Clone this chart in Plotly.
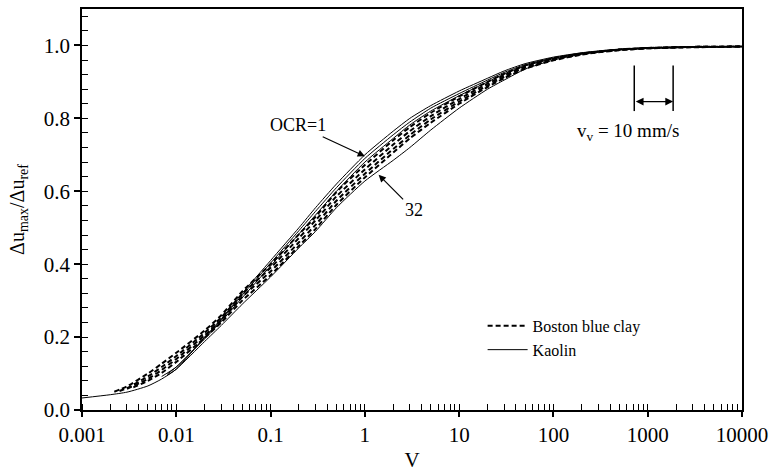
import plotly.graph_objects as go
import numpy as np

# ---- data ----
G = [0.01, 0.02, 0.03, 0.05, 0.1, 0.2, 0.3, 0.5, 1, 2, 3, 5, 10, 20, 30, 50, 100, 200, 300, 500, 1000, 3000, 10000]

# Kaolin (solid lines)
k1_v = [0.001, 0.002, 0.003, 0.005, 0.007] + G
k1_y = [0.033, 0.042, 0.049, 0.066, 0.085,
        0.112, 0.20, 0.25, 0.32, 0.41, 0.50, 0.555, 0.62, 0.70, 0.765, 0.80, 0.835, 0.875, 0.91, 0.93, 0.95, 0.968, 0.98, 0.985, 0.99, 0.994, 0.996, 0.997]
k2_v = [0.007] + G
k2_y = [0.092,
        0.118, 0.198, 0.247, 0.315, 0.403, 0.492, 0.545, 0.61, 0.69, 0.755, 0.79, 0.828, 0.868, 0.905, 0.926, 0.947, 0.966, 0.979, 0.984, 0.989, 0.993, 0.996, 0.997]
k3_v = [0.008] + G
k3_y = [0.098,
        0.118, 0.195, 0.243, 0.308, 0.395, 0.483, 0.535, 0.60, 0.68, 0.745, 0.782, 0.82, 0.862, 0.90, 0.922, 0.944, 0.964, 0.978, 0.983, 0.989, 0.993, 0.996, 0.997]
k4_v = [0.008] + G
k4_y = [0.095,
        0.112, 0.188, 0.232, 0.29, 0.365, 0.445, 0.49, 0.555, 0.628, 0.685, 0.72, 0.768, 0.828, 0.88, 0.905, 0.935, 0.96, 0.976, 0.982, 0.988, 0.992, 0.995, 0.997]

# Boston blue clay (dashed lines)
b1_v = [0.0022, 0.003, 0.005, 0.007] + G
b1_y = [0.05, 0.065, 0.10, 0.127,
        0.157, 0.218, 0.26, 0.325, 0.40, 0.482, 0.53, 0.598, 0.672, 0.74, 0.776, 0.815, 0.86, 0.90, 0.922, 0.945, 0.965, 0.978, 0.983, 0.989, 0.993, 0.996, 0.997]
b2_v = [0.0025, 0.003, 0.005, 0.007] + G
b2_y = [0.052, 0.06, 0.092, 0.118,
        0.148, 0.212, 0.254, 0.318, 0.39, 0.472, 0.52, 0.586, 0.66, 0.728, 0.765, 0.806, 0.853, 0.895, 0.918, 0.942, 0.963, 0.977, 0.983, 0.988, 0.993, 0.996, 0.997]
b3_v = [0.003, 0.005, 0.007] + G
b3_y = [0.058, 0.085, 0.11,
        0.14, 0.205, 0.247, 0.31, 0.38, 0.46, 0.508, 0.574, 0.648, 0.716, 0.754, 0.797, 0.846, 0.89, 0.914, 0.939, 0.961, 0.976, 0.982, 0.988, 0.992, 0.996, 0.997]
b4_v = [0.0035, 0.005, 0.007] + G
b4_y = [0.062, 0.08, 0.102,
        0.132, 0.198, 0.24, 0.30, 0.37, 0.45, 0.497, 0.563, 0.638, 0.706, 0.745, 0.788, 0.84, 0.886, 0.91, 0.936, 0.959, 0.975, 0.981, 0.987, 0.992, 0.995, 0.997]

kaolin = [(k1_v, k1_y), (k2_v, k2_y), (k3_v, k3_y), (k4_v, k4_y)]
boston = [(b1_v, b1_y), (b2_v, b2_y), (b3_v, b3_y), (b4_v, b4_y)]

x_tick_vals = [0.001, 0.01, 0.1, 1, 10, 100, 1000, 10000]
x_tick_text = ["0.001", "0.01", "0.1", "1", "10", "100", "1000", "10000"]
y_tick_vals = [0.0, 0.2, 0.4, 0.6, 0.8, 1.0]
y_tick_text = ["0.0", "0.2", "0.4", "0.6", "0.8", "1.0"]

# annotation anchors
vv_bar_x = [720, 1860]
vv_bar_y = [0.82, 0.945]
vv_arrow_y = 0.846
ocr1_point = (1.0, 0.696)
ocr32_point = (1.40, 0.645)

FONT = "Liberation Serif"

fig = go.Figure()
for i, (v, y) in enumerate(boston):
    fig.add_trace(go.Scatter(x=v, y=y, mode="lines",
                             line=dict(color="black", width=2, dash="5px,3px", shape="spline", smoothing=0.6),
                             name="Boston blue clay", showlegend=(i == 0)))
for i, (v, y) in enumerate(kaolin):
    fig.add_trace(go.Scatter(x=v, y=y, mode="lines",
                             line=dict(color="black", width=1, shape="spline", smoothing=0.6),
                             name="Kaolin", showlegend=(i == 0)))

minor_x = [m * 10.0 ** e for e in range(-3, 4) for m in range(1, 10)] + [10000]

fig.update_xaxes(type="log", range=[-3, 4], tickvals=x_tick_vals, ticktext=x_tick_text,
                 ticks="outside", ticklen=5, tickwidth=1.5, tickcolor="black",
                 minor=dict(tickvals=minor_x, ticks="inside", ticklen=6, tickwidth=1.2, tickcolor="black", showgrid=False),
                 showline=True, linecolor="black", linewidth=1.5, mirror=True, showgrid=False, zeroline=False,
                 tickfont=dict(family=FONT, size=21, color="black"),
                 title=dict(text="V", font=dict(family=FONT, size=21, color="black"), standoff=6))
minor_y = [round(0.04 * i, 2) for i in range(0, 28)]
fig.update_yaxes(range=[0, 1.1], tickvals=y_tick_vals, ticktext=y_tick_text,
                 ticks="outside", ticklen=6, tickwidth=1.5, tickcolor="black",
                 minor=dict(tickvals=minor_y, ticks="inside", ticklen=6, tickwidth=1.2, tickcolor="black", showgrid=False),
                 showline=True, linecolor="black", linewidth=1.5, mirror=True, showgrid=False, zeroline=False,
                 tickfont=dict(family=FONT, size=21, color="black"),
                 title=dict(text="Δu<sub>max</sub>/Δu<sub>ref</sub>", font=dict(family=FONT, size=20, color="black"), standoff=14))

# velocity bar markers
for xv in vv_bar_x:
    fig.add_shape(type="line", xref="x", yref="y", x0=xv, x1=xv, y0=vv_bar_y[0], y1=vv_bar_y[1],
                  line=dict(color="black", width=1.5))
fig.add_annotation(x=np.log10(vv_bar_x[1]), y=vv_arrow_y, ax=np.log10(vv_bar_x[0]), ay=vv_arrow_y,
                   xref="x", yref="y", axref="x", ayref="y", text="", showarrow=True,
                   arrowhead=2, arrowside="end+start", arrowsize=1.2, arrowwidth=1.3, arrowcolor="black")
fig.add_annotation(x=np.log10(np.sqrt(vv_bar_x[0] * vv_bar_x[1])), y=vv_arrow_y, xref="x", yref="y",
                   text="v<sub>v</sub> = 10 mm/s", showarrow=False, yshift=-30, xshift=-26,
                   font=dict(family=FONT, size=19, color="black"))

fig.add_annotation(x=np.log10(ocr1_point[0]), y=ocr1_point[1], xref="x", yref="y", text="OCR=1",
                   showarrow=True, ax=-67, ay=-31, arrowhead=2, arrowsize=1.2, arrowwidth=1.2, arrowcolor="black",
                   font=dict(family=FONT, size=18, color="black"))
fig.add_annotation(x=np.log10(ocr32_point[0]), y=ocr32_point[1], xref="x", yref="y", text="32",
                   showarrow=True, ax=35, ay=35, arrowhead=2, arrowsize=1.2, arrowwidth=1.2, arrowcolor="black",
                   font=dict(family=FONT, size=18, color="black"))

fig.update_layout(width=775, height=475, margin=dict(l=82, r=29, t=7, b=56),
                  plot_bgcolor="white", paper_bgcolor="white",
                  legend=dict(x=0.607, y=0.252, xanchor="left", yanchor="top", bgcolor="rgba(0,0,0,0)",
                              font=dict(family=FONT, size=16, color="black"), tracegroupgap=0, itemwidth=40))
fig.write_html("out.html")
